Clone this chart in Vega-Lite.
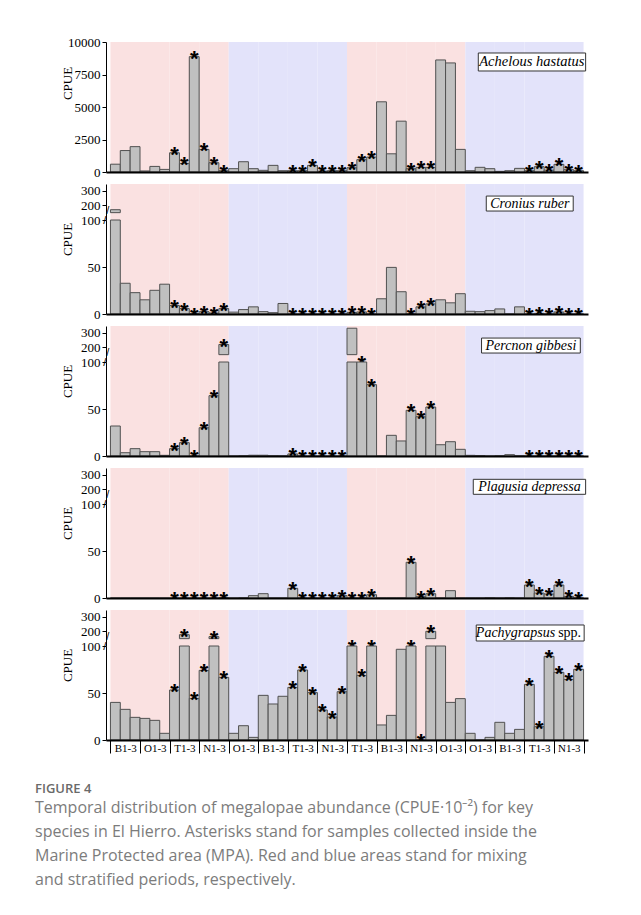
{
"$schema":"https://vega.github.io/schema/vega-lite/v6.json",
"padding":{"left":35,"top":36,"right":5,"bottom":10},
"spacing":5,
"title":{"text":"FIGURE 4","subtitle":["Temporal distribution of megalopae abundance (CPUE·10⁻²) for key","species in El Hierro. Asterisks stand for samples collected inside the","Marine Protected area (MPA). Red and blue areas stand for mixing","and stratified periods, respectively."],"orient":"bottom","anchor":"start","frame":"bounds","offset":29,"dx":-26,"font":"Open Sans","fontSize":13,"fontWeight":600,"color":"#6a6a6a","subtitleFont":"Open Sans","subtitleFontSize":16,"subtitleColor":"#7c7c7c","subtitleLineHeight":24,"subtitlePadding":4},
"config":{"view":{"stroke":null},
"axisY":{"domainColor":"black","tickColor":"black","tickSize":4,"labelFont":"Liberation Serif","labelFontSize":13,"labelColor":"black","labelPadding":2,"labelFlush":false,"labelOverlap":false,"format":"d","grid":false,"titleFont":"Liberation Serif","titleFontSize":13,"titleFontWeight":"normal","titleColor":"black"},
"axisX":{"grid":false,"domainColor":"black","domainWidth":2,"labelFont":"Liberation Serif","labelFontSize":11,"labelColor":"black","labelAngle":0,"tickColor":"black"}},
"datasets":{
"bg":[{"g":"01","p":"m"},{"g":"02","p":"m"},{"g":"03","p":"m"},{"g":"04","p":"m"},{"g":"05","p":"s"},{"g":"06","p":"s"},{"g":"07","p":"s"},{"g":"08","p":"s"},{"g":"09","p":"m"},{"g":"10","p":"m"},{"g":"11","p":"m"},{"g":"12","p":"m"},{"g":"13","p":"s"},{"g":"14","p":"s"},{"g":"15","p":"s"},{"g":"16","p":"s"}],
"d":[
{"sp":"A","g":"01","s":1,"v":600,"m":0},{"sp":"A","g":"01","s":2,"v":1650,"m":0},{"sp":"A","g":"01","s":3,"v":1950,"m":0},
{"sp":"A","g":"02","s":1,"v":80,"m":0},{"sp":"A","g":"02","s":2,"v":430,"m":0},{"sp":"A","g":"02","s":3,"v":200,"m":0},
{"sp":"A","g":"03","s":1,"v":1480,"m":1},{"sp":"A","g":"03","s":2,"v":665,"m":1},{"sp":"A","g":"03","s":3,"v":8875,"m":1},
{"sp":"A","g":"04","s":1,"v":1740,"m":1},{"sp":"A","g":"04","s":2,"v":716,"m":1},{"sp":"A","g":"04","s":3,"v":100,"m":1},
{"sp":"A","g":"05","s":1,"v":255,"m":0},{"sp":"A","g":"05","s":2,"v":790,"m":0},{"sp":"A","g":"05","s":3,"v":255,"m":0},
{"sp":"A","g":"06","s":1,"v":128,"m":0},{"sp":"A","g":"06","s":2,"v":510,"m":0},{"sp":"A","g":"06","s":3,"v":100,"m":0},
{"sp":"A","g":"07","s":1,"v":100,"m":1},{"sp":"A","g":"07","s":2,"v":100,"m":1},{"sp":"A","g":"07","s":3,"v":510,"m":1},
{"sp":"A","g":"08","s":1,"v":70,"m":1},{"sp":"A","g":"08","s":2,"v":100,"m":1},{"sp":"A","g":"08","s":3,"v":100,"m":1},
{"sp":"A","g":"09","s":1,"v":330,"m":1},{"sp":"A","g":"09","s":2,"v":950,"m":1},{"sp":"A","g":"09","s":3,"v":1150,"m":1},
{"sp":"A","g":"10","s":1,"v":5400,"m":0},{"sp":"A","g":"10","s":2,"v":1400,"m":0},{"sp":"A","g":"10","s":3,"v":3910,"m":0},
{"sp":"A","g":"11","s":1,"v":255,"m":1},{"sp":"A","g":"11","s":2,"v":360,"m":1},{"sp":"A","g":"11","s":3,"v":360,"m":1},
{"sp":"A","g":"12","s":1,"v":8620,"m":0},{"sp":"A","g":"12","s":2,"v":8390,"m":0},{"sp":"A","g":"12","s":3,"v":1740,"m":0},
{"sp":"A","g":"13","s":1,"v":100,"m":0},{"sp":"A","g":"13","s":2,"v":360,"m":0},{"sp":"A","g":"13","s":3,"v":255,"m":0},
{"sp":"A","g":"14","s":1,"v":50,"m":0},{"sp":"A","g":"14","s":2,"v":100,"m":0},{"sp":"A","g":"14","s":3,"v":280,"m":0},
{"sp":"A","g":"15","s":1,"v":100,"m":1},{"sp":"A","g":"15","s":2,"v":410,"m":1},{"sp":"A","g":"15","s":3,"v":150,"m":1},
{"sp":"A","g":"16","s":1,"v":590,"m":1},{"sp":"A","g":"16","s":2,"v":180,"m":1},{"sp":"A","g":"16","s":3,"v":100,"m":1},
{"sp":"C","g":"01","s":1,"v":170,"m":0},{"sp":"C","g":"01","s":2,"v":32.7,"m":0},{"sp":"C","g":"01","s":3,"v":22.7,"m":0},
{"sp":"C","g":"02","s":1,"v":15.1,"m":0},{"sp":"C","g":"02","s":2,"v":25.2,"m":0},{"sp":"C","g":"02","s":3,"v":31.7,"m":0},
{"sp":"C","g":"03","s":1,"v":9,"m":1},{"sp":"C","g":"03","s":2,"v":5.8,"m":1},{"sp":"C","g":"03","s":3,"v":0.5,"m":1},
{"sp":"C","g":"04","s":1,"v":2.5,"m":1},{"sp":"C","g":"04","s":2,"v":1.1,"m":1},{"sp":"C","g":"04","s":3,"v":5.8,"m":1},
{"sp":"C","g":"05","s":1,"v":2,"m":0},{"sp":"C","g":"05","s":2,"v":4.7,"m":0},{"sp":"C","g":"05","s":3,"v":7.6,"m":0},
{"sp":"C","g":"06","s":1,"v":2.5,"m":0},{"sp":"C","g":"06","s":2,"v":1.4,"m":0},{"sp":"C","g":"06","s":3,"v":11.2,"m":0},
{"sp":"C","g":"07","s":1,"v":0,"m":1},{"sp":"C","g":"07","s":2,"v":0,"m":1},{"sp":"C","g":"07","s":3,"v":0,"m":1},
{"sp":"C","g":"08","s":1,"v":0,"m":1},{"sp":"C","g":"08","s":2,"v":0,"m":1},{"sp":"C","g":"08","s":3,"v":0,"m":1},
{"sp":"C","g":"09","s":1,"v":1.8,"m":1},{"sp":"C","g":"09","s":2,"v":2.2,"m":1},{"sp":"C","g":"09","s":3,"v":0,"m":1},
{"sp":"C","g":"10","s":1,"v":16.2,"m":0},{"sp":"C","g":"10","s":2,"v":49.6,"m":0},{"sp":"C","g":"10","s":3,"v":23.7,"m":0},
{"sp":"C","g":"11","s":1,"v":0.3,"m":1},{"sp":"C","g":"11","s":2,"v":7.6,"m":1},{"sp":"C","g":"11","s":3,"v":10.8,"m":1},
{"sp":"C","g":"12","s":1,"v":15.1,"m":0},{"sp":"C","g":"12","s":2,"v":11.9,"m":0},{"sp":"C","g":"12","s":3,"v":21.6,"m":0},
{"sp":"C","g":"13","s":1,"v":2.9,"m":0},{"sp":"C","g":"13","s":2,"v":2.5,"m":0},{"sp":"C","g":"13","s":3,"v":3.6,"m":0},
{"sp":"C","g":"14","s":1,"v":5.4,"m":0},{"sp":"C","g":"14","s":2,"v":0,"m":0},{"sp":"C","g":"14","s":3,"v":7.6,"m":0},
{"sp":"C","g":"15","s":1,"v":0,"m":1},{"sp":"C","g":"15","s":2,"v":0.7,"m":1},{"sp":"C","g":"15","s":3,"v":0,"m":1},
{"sp":"C","g":"16","s":1,"v":2.2,"m":1},{"sp":"C","g":"16","s":2,"v":0,"m":1},{"sp":"C","g":"16","s":3,"v":0,"m":1},
{"sp":"P","g":"01","s":1,"v":31.9,"m":0},{"sp":"P","g":"01","s":2,"v":3.5,"m":0},{"sp":"P","g":"01","s":3,"v":7.8,"m":0},
{"sp":"P","g":"02","s":1,"v":4.6,"m":0},{"sp":"P","g":"02","s":2,"v":4.6,"m":0},{"sp":"P","g":"02","s":3,"v":0.7,"m":0},
{"sp":"P","g":"03","s":1,"v":7.8,"m":1},{"sp":"P","g":"03","s":2,"v":14.2,"m":1},{"sp":"P","g":"03","s":3,"v":0,"m":1},
{"sp":"P","g":"04","s":1,"v":30.1,"m":1},{"sp":"P","g":"04","s":2,"v":64.2,"m":1},{"sp":"P","g":"04","s":3,"v":219,"m":1},
{"sp":"P","g":"05","s":1,"v":0,"m":0},{"sp":"P","g":"05","s":2,"v":0.3,"m":0},{"sp":"P","g":"05","s":3,"v":0.8,"m":0},
{"sp":"P","g":"06","s":1,"v":0.8,"m":0},{"sp":"P","g":"06","s":2,"v":0.3,"m":0},{"sp":"P","g":"06","s":3,"v":0.2,"m":0},
{"sp":"P","g":"07","s":1,"v":2.2,"m":1},{"sp":"P","g":"07","s":2,"v":0,"m":1},{"sp":"P","g":"07","s":3,"v":0,"m":1},
{"sp":"P","g":"08","s":1,"v":0,"m":1},{"sp":"P","g":"08","s":2,"v":0,"m":1},{"sp":"P","g":"08","s":3,"v":0,"m":1},
{"sp":"P","g":"09","s":1,"v":330,"m":0},{"sp":"P","g":"09","s":2,"v":100,"m":1},{"sp":"P","g":"09","s":3,"v":75.9,"m":1},
{"sp":"P","g":"10","s":1,"v":0,"m":0},{"sp":"P","g":"10","s":2,"v":22,"m":0},{"sp":"P","g":"10","s":3,"v":16,"m":0},
{"sp":"P","g":"11","s":1,"v":48.6,"m":1},{"sp":"P","g":"11","s":2,"v":41.8,"m":1},{"sp":"P","g":"11","s":3,"v":52.1,"m":1},
{"sp":"P","g":"12","s":1,"v":12,"m":0},{"sp":"P","g":"12","s":2,"v":15.2,"m":0},{"sp":"P","g":"12","s":3,"v":7.1,"m":0},
{"sp":"P","g":"13","s":1,"v":0.7,"m":0},{"sp":"P","g":"13","s":2,"v":0.5,"m":0},{"sp":"P","g":"13","s":3,"v":0,"m":0},
{"sp":"P","g":"14","s":1,"v":0.3,"m":0},{"sp":"P","g":"14","s":2,"v":1.4,"m":0},{"sp":"P","g":"14","s":3,"v":0.3,"m":0},
{"sp":"P","g":"15","s":1,"v":0,"m":1},{"sp":"P","g":"15","s":2,"v":0,"m":1},{"sp":"P","g":"15","s":3,"v":0,"m":1},
{"sp":"P","g":"16","s":1,"v":0,"m":1},{"sp":"P","g":"16","s":2,"v":0,"m":1},{"sp":"P","g":"16","s":3,"v":0,"m":1},
{"sp":"L","g":"01","s":1,"v":0,"m":0},{"sp":"L","g":"01","s":2,"v":0,"m":0},{"sp":"L","g":"01","s":3,"v":0,"m":0},
{"sp":"L","g":"02","s":1,"v":0,"m":0},{"sp":"L","g":"02","s":2,"v":0,"m":0},{"sp":"L","g":"02","s":3,"v":0,"m":0},
{"sp":"L","g":"03","s":1,"v":0,"m":1},{"sp":"L","g":"03","s":2,"v":0,"m":1},{"sp":"L","g":"03","s":3,"v":0,"m":1},
{"sp":"L","g":"04","s":1,"v":0,"m":1},{"sp":"L","g":"04","s":2,"v":0,"m":1},{"sp":"L","g":"04","s":3,"v":0.5,"m":1},
{"sp":"L","g":"05","s":1,"v":0,"m":0},{"sp":"L","g":"05","s":2,"v":0.3,"m":0},{"sp":"L","g":"05","s":3,"v":2.5,"m":0},
{"sp":"L","g":"06","s":1,"v":4.6,"m":0},{"sp":"L","g":"06","s":2,"v":0,"m":0},{"sp":"L","g":"06","s":3,"v":0,"m":0},
{"sp":"L","g":"07","s":1,"v":10.3,"m":1},{"sp":"L","g":"07","s":2,"v":0,"m":1},{"sp":"L","g":"07","s":3,"v":0,"m":1},
{"sp":"L","g":"08","s":1,"v":0,"m":1},{"sp":"L","g":"08","s":2,"v":0,"m":1},{"sp":"L","g":"08","s":3,"v":2.5,"m":1},
{"sp":"L","g":"09","s":1,"v":0,"m":1},{"sp":"L","g":"09","s":2,"v":0,"m":1},{"sp":"L","g":"09","s":3,"v":3.5,"m":1},
{"sp":"L","g":"10","s":1,"v":0,"m":0},{"sp":"L","g":"10","s":2,"v":0,"m":0},{"sp":"L","g":"10","s":3,"v":0,"m":0},
{"sp":"L","g":"11","s":1,"v":38,"m":1},{"sp":"L","g":"11","s":2,"v":1.4,"m":1},{"sp":"L","g":"11","s":3,"v":4.6,"m":1},
{"sp":"L","g":"12","s":1,"v":0,"m":0},{"sp":"L","g":"12","s":2,"v":7.8,"m":0},{"sp":"L","g":"12","s":3,"v":0,"m":0},
{"sp":"L","g":"13","s":1,"v":0,"m":0},{"sp":"L","g":"13","s":2,"v":0,"m":0},{"sp":"L","g":"13","s":3,"v":0.3,"m":0},
{"sp":"L","g":"14","s":1,"v":0,"m":0},{"sp":"L","g":"14","s":2,"v":0.3,"m":0},{"sp":"L","g":"14","s":3,"v":0,"m":0},
{"sp":"L","g":"15","s":1,"v":13.8,"m":1},{"sp":"L","g":"15","s":2,"v":5.3,"m":1},{"sp":"L","g":"15","s":3,"v":4.3,"m":1},
{"sp":"L","g":"16","s":1,"v":13.8,"m":1},{"sp":"L","g":"16","s":2,"v":1.8,"m":1},{"sp":"L","g":"16","s":3,"v":0,"m":1},
{"sp":"G","g":"01","s":1,"v":40,"m":0},{"sp":"G","g":"01","s":2,"v":32.6,"m":0},{"sp":"G","g":"01","s":3,"v":24.1,"m":0},
{"sp":"G","g":"02","s":1,"v":23,"m":0},{"sp":"G","g":"02","s":2,"v":20.9,"m":0},{"sp":"G","g":"02","s":3,"v":7.1,"m":0},
{"sp":"G","g":"03","s":1,"v":53.2,"m":1},{"sp":"G","g":"03","s":2,"v":177,"m":1},{"sp":"G","g":"03","s":3,"v":44.3,"m":1},
{"sp":"G","g":"04","s":1,"v":74.1,"m":1},{"sp":"G","g":"04","s":2,"v":164,"m":1},{"sp":"G","g":"04","s":3,"v":66.7,"m":1},
{"sp":"G","g":"05","s":1,"v":7.1,"m":0},{"sp":"G","g":"05","s":2,"v":15.2,"m":0},{"sp":"G","g":"05","s":3,"v":2.8,"m":0},
{"sp":"G","g":"06","s":1,"v":47.5,"m":0},{"sp":"G","g":"06","s":2,"v":38.3,"m":0},{"sp":"G","g":"06","s":3,"v":46.5,"m":0},
{"sp":"G","g":"07","s":1,"v":56,"m":1},{"sp":"G","g":"07","s":2,"v":74.5,"m":1},{"sp":"G","g":"07","s":3,"v":50.4,"m":1},
{"sp":"G","g":"08","s":1,"v":31.9,"m":1},{"sp":"G","g":"08","s":2,"v":24.5,"m":1},{"sp":"G","g":"08","s":3,"v":51.4,"m":1},
{"sp":"G","g":"09","s":1,"v":100,"m":1},{"sp":"G","g":"09","s":2,"v":68.8,"m":1},{"sp":"G","g":"09","s":3,"v":100,"m":1},
{"sp":"G","g":"10","s":1,"v":16,"m":0},{"sp":"G","g":"10","s":2,"v":26.2,"m":0},{"sp":"G","g":"10","s":3,"v":96.5,"m":0},
{"sp":"G","g":"11","s":1,"v":100,"m":1},{"sp":"G","g":"11","s":2,"v":0,"m":1},{"sp":"G","g":"11","s":3,"v":200,"m":1},
{"sp":"G","g":"12","s":1,"v":100,"m":0},{"sp":"G","g":"12","s":2,"v":40,"m":0},{"sp":"G","g":"12","s":3,"v":44,"m":0},
{"sp":"G","g":"13","s":1,"v":7.1,"m":0},{"sp":"G","g":"13","s":2,"v":0,"m":0},{"sp":"G","g":"13","s":3,"v":2.8,"m":0},
{"sp":"G","g":"14","s":1,"v":18.8,"m":0},{"sp":"G","g":"14","s":2,"v":7.1,"m":0},{"sp":"G","g":"14","s":3,"v":11.3,"m":0},
{"sp":"G","g":"15","s":1,"v":59.2,"m":1},{"sp":"G","g":"15","s":2,"v":14.2,"m":1},{"sp":"G","g":"15","s":3,"v":89,"m":1},
{"sp":"G","g":"16","s":1,"v":72,"m":1},{"sp":"G","g":"16","s":2,"v":64.5,"m":1},{"sp":"G","g":"16","s":3,"v":75.2,"m":1}
]},
"vconcat":[
{"width":482,"height":130,"layer":[
 {"data":{"name":"bg"},"mark":{"type":"rect"},"encoding":{"x":{"field":"g","type":"nominal","scale":{"domain":["01","02","03","04","05","06","07","08","09","10","11","12","13","14","15","16"],"paddingInner":0,"paddingOuter":0.15},"axis":{"labels":false,"ticks":false,"title":null}},"y":{"datum":10000,"type":"quantitative","scale":{"domain":[0,10000],"nice":false},"axis":{"values":[0,2500,5000,7500,10000],"tickCount":10,"title":"CPUE","titleX":-32,"titleY":41}},"y2":{"datum":0},"fill":{"field":"p","type":"nominal","scale":{"domain":["m","s"],"range":["#fae1e1","#e3e3fa"]},"legend":null}}},
 {"data":{"name":"d"},"transform":[{"filter":"datum.sp=='A'"}],"mark":{"type":"bar","fill":"#c0c0c0","stroke":"#505050","strokeWidth":1},"encoding":{"x":{"field":"g","type":"nominal","scale":{"domain":["01","02","03","04","05","06","07","08","09","10","11","12","13","14","15","16"],"paddingInner":0,"paddingOuter":0.15},"axis":{"labels":false,"ticks":false,"title":null}},"xOffset":{"field":"s","type":"ordinal","scale":{"domain":[1,2,3],"paddingInner":0,"paddingOuter":0}},"y":{"field":"v","type":"quantitative","scale":{"domain":[0,10000],"nice":false},"axis":{"values":[0,2500,5000,7500,10000],"tickCount":10,"title":"CPUE","titleX":-32,"titleY":41}}}},
 {"data":{"name":"d"},"transform":[{"filter":"datum.sp=='A' && datum.m==1"}],"mark":{"type":"text","text":"*","font":"Liberation Sans","fontSize":22,"fontWeight":"bold","baseline":"alphabetic","dy":9,"color":"black","clip":true},"encoding":{"x":{"field":"g","type":"nominal","scale":{"domain":["01","02","03","04","05","06","07","08","09","10","11","12","13","14","15","16"],"paddingInner":0,"paddingOuter":0.15},"axis":{"labels":false,"ticks":false,"title":null}},"xOffset":{"field":"s","type":"ordinal","scale":{"domain":[1,2,3],"paddingInner":0,"paddingOuter":0}},"y":{"field":"v","type":"quantitative","scale":{"domain":[0,10000],"nice":false},"axis":{"values":[0,2500,5000,7500,10000],"tickCount":10,"title":"CPUE","titleX":-32,"titleY":41}}}},
 {"data":{"values":[{}]},"mark":{"type":"rect","fill":"white","stroke":"#333","strokeWidth":1},"encoding":{"x":{"datum":"13","type":"nominal","bandPosition":0.44},"x2":{"datum":"16","bandPosition":1.07},"y":{"datum":9154,"type":"quantitative"},"y2":{"datum":7770}}},
 {"data":{"values":[{}]},"mark":{"type":"text","text":"Achelous hastatus","font":"Liberation Serif","fontStyle":"italic","fontSize":14.5,"baseline":"middle","align":"center","color":"black"},"encoding":{"x":{"datum":"15","type":"nominal","bandPosition":0.25},"y":{"datum":8462,"type":"quantitative"}}}
]},
{"spacing":0,"bounds":"flush","vconcat":[
 {"width":482,"height":36,"layer":[
  {"data":{"name":"bg"},"mark":{"type":"rect"},"encoding":{"x":{"field":"g","type":"nominal","scale":{"domain":["01","02","03","04","05","06","07","08","09","10","11","12","13","14","15","16"],"paddingInner":0,"paddingOuter":0.15},"axis":null},"y":{"datum":345,"type":"quantitative","scale":{"domain":[100,345],"nice":false},"axis":{"values":[200,300],"title":null}},"y2":{"datum":100},"fill":{"field":"p","type":"nominal","scale":{"domain":["m","s"],"range":["#fae1e1","#e3e3fa"]},"legend":null}}},
  {"data":{"name":"d"},"transform":[{"filter":"datum.sp=='C' && datum.v>100"}],"mark":{"type":"bar","fill":"#c0c0c0","stroke":"#505050","strokeWidth":1},"encoding":{"x":{"field":"g","type":"nominal","scale":{"domain":["01","02","03","04","05","06","07","08","09","10","11","12","13","14","15","16"],"paddingInner":0,"paddingOuter":0.15},"axis":null},"xOffset":{"field":"s","type":"ordinal","scale":{"domain":[1,2,3],"paddingInner":0,"paddingOuter":0}},"y":{"field":"v","type":"quantitative","scale":{"domain":[100,345],"nice":false},"axis":{"values":[200,300],"title":null}},"y2":{"datum":150}}},
  {"data":{"values":[{}]},"mark":{"type":"rect","fill":"white","stroke":"#333","strokeWidth":1},"encoding":{"x":{"datum":"13","type":"nominal","bandPosition":0.71},"x2":{"datum":"16","bandPosition":0.65},"y":{"datum":263,"type":"quantitative"},"y2":{"datum":161}}},
  {"data":{"values":[{}]},"mark":{"type":"text","text":"Cronius ruber","font":"Liberation Serif","fontStyle":"italic","fontSize":14,"baseline":"middle","align":"center","color":"black"},"encoding":{"x":{"datum":"15","type":"nominal","bandPosition":0.18},"y":{"datum":212,"type":"quantitative"}}}
 ]},
 {"width":482,"height":94,"layer":[
  {"data":{"name":"bg"},"mark":{"type":"rect"},"encoding":{"x":{"field":"g","type":"nominal","scale":{"domain":["01","02","03","04","05","06","07","08","09","10","11","12","13","14","15","16"],"paddingInner":0,"paddingOuter":0.15},"axis":{"labels":false,"ticks":false,"title":null}},"y":{"datum":100,"type":"quantitative","scale":{"domain":[0,100],"nice":false,"clamp":true},"axis":{"values":[0,50,100],"tickCount":10,"title":"CPUE","titleX":-32,"titleY":19}},"y2":{"datum":0},"fill":{"field":"p","type":"nominal","scale":{"domain":["m","s"],"range":["#fae1e1","#e3e3fa"]},"legend":null}}},
  {"data":{"name":"d"},"transform":[{"filter":"datum.sp=='C'"}],"mark":{"type":"bar","fill":"#c0c0c0","stroke":"#505050","strokeWidth":1},"encoding":{"x":{"field":"g","type":"nominal","scale":{"domain":["01","02","03","04","05","06","07","08","09","10","11","12","13","14","15","16"],"paddingInner":0,"paddingOuter":0.15},"axis":{"labels":false,"ticks":false,"title":null}},"xOffset":{"field":"s","type":"ordinal","scale":{"domain":[1,2,3],"paddingInner":0,"paddingOuter":0}},"y":{"field":"v","type":"quantitative","scale":{"domain":[0,100],"nice":false,"clamp":true},"axis":{"values":[0,50,100],"tickCount":10,"title":"CPUE","titleX":-32,"titleY":19}}}},
  {"data":{"name":"d"},"transform":[{"filter":"datum.sp=='C' && datum.m==1 && datum.v<100"}],"mark":{"type":"text","text":"*","font":"Liberation Sans","fontSize":22,"fontWeight":"bold","baseline":"alphabetic","dy":9,"color":"black","clip":true},"encoding":{"x":{"field":"g","type":"nominal","scale":{"domain":["01","02","03","04","05","06","07","08","09","10","11","12","13","14","15","16"],"paddingInner":0,"paddingOuter":0.15},"axis":{"labels":false,"ticks":false,"title":null}},"xOffset":{"field":"s","type":"ordinal","scale":{"domain":[1,2,3],"paddingInner":0,"paddingOuter":0}},"y":{"field":"v","type":"quantitative","scale":{"domain":[0,100],"nice":false,"clamp":true},"axis":{"values":[0,50,100],"tickCount":10,"title":"CPUE","titleX":-32,"titleY":19}}}},
  {"data":{"values":[{}]},"mark":{"type":"text","text":"/","font":"Liberation Sans","fontSize":11,"baseline":"middle","align":"center","dy":-9,"dx":1,"color":"black"},"encoding":{"x":{"datum":"01","type":"nominal","bandPosition":-0.125},"y":{"datum":100,"type":"quantitative"}}},
  {"data":{"values":[{}]},"mark":{"type":"text","text":"/","font":"Liberation Sans","fontSize":11,"baseline":"middle","align":"center","dy":1,"dx":-2,"color":"black"},"encoding":{"x":{"datum":"01","type":"nominal","bandPosition":-0.125},"y":{"datum":100,"type":"quantitative"}}}
 ]}
]},
{"spacing":0,"bounds":"flush","vconcat":[
 {"width":482,"height":36,"layer":[
  {"data":{"name":"bg"},"mark":{"type":"rect"},"encoding":{"x":{"field":"g","type":"nominal","scale":{"domain":["01","02","03","04","05","06","07","08","09","10","11","12","13","14","15","16"],"paddingInner":0,"paddingOuter":0.15},"axis":null},"y":{"datum":345,"type":"quantitative","scale":{"domain":[100,345],"nice":false},"axis":{"values":[200,300],"title":null}},"y2":{"datum":100},"fill":{"field":"p","type":"nominal","scale":{"domain":["m","s"],"range":["#fae1e1","#e3e3fa"]},"legend":null}}},
  {"data":{"name":"d"},"transform":[{"filter":"datum.sp=='P' && datum.v>100"}],"mark":{"type":"bar","fill":"#c0c0c0","stroke":"#505050","strokeWidth":1},"encoding":{"x":{"field":"g","type":"nominal","scale":{"domain":["01","02","03","04","05","06","07","08","09","10","11","12","13","14","15","16"],"paddingInner":0,"paddingOuter":0.15},"axis":null},"xOffset":{"field":"s","type":"ordinal","scale":{"domain":[1,2,3],"paddingInner":0,"paddingOuter":0}},"y":{"field":"v","type":"quantitative","scale":{"domain":[100,345],"nice":false},"axis":{"values":[200,300],"title":null}},"y2":{"datum":150}}},
  {"data":{"name":"d"},"transform":[{"filter":"datum.sp=='P' && datum.m==1 && datum.v>=100"}],"mark":{"type":"text","text":"*","font":"Liberation Sans","fontSize":22,"fontWeight":"bold","baseline":"alphabetic","dy":9,"color":"black","clip":true},"encoding":{"x":{"field":"g","type":"nominal","scale":{"domain":["01","02","03","04","05","06","07","08","09","10","11","12","13","14","15","16"],"paddingInner":0,"paddingOuter":0.15},"axis":null},"xOffset":{"field":"s","type":"ordinal","scale":{"domain":[1,2,3],"paddingInner":0,"paddingOuter":0}},"y":{"field":"v","type":"quantitative","scale":{"domain":[100,345],"nice":false},"axis":{"values":[200,300],"title":null}}}},
  {"data":{"values":[{}]},"mark":{"type":"rect","fill":"white","stroke":"#333","strokeWidth":1},"encoding":{"x":{"datum":"13","type":"nominal","bandPosition":0.55},"x2":{"datum":"16","bandPosition":0.89},"y":{"datum":263,"type":"quantitative"},"y2":{"datum":161}}},
  {"data":{"values":[{}]},"mark":{"type":"text","text":"Percnon gibbesi","font":"Liberation Serif","fontStyle":"italic","fontSize":14,"baseline":"middle","align":"center","color":"black"},"encoding":{"x":{"datum":"15","type":"nominal","bandPosition":0.22},"y":{"datum":212,"type":"quantitative"}}}
 ]},
 {"width":482,"height":94,"layer":[
  {"data":{"name":"bg"},"mark":{"type":"rect"},"encoding":{"x":{"field":"g","type":"nominal","scale":{"domain":["01","02","03","04","05","06","07","08","09","10","11","12","13","14","15","16"],"paddingInner":0,"paddingOuter":0.15},"axis":{"labels":false,"ticks":false,"title":null}},"y":{"datum":100,"type":"quantitative","scale":{"domain":[0,100],"nice":false,"clamp":true},"axis":{"values":[0,50,100],"tickCount":10,"title":"CPUE","titleX":-32,"titleY":19}},"y2":{"datum":0},"fill":{"field":"p","type":"nominal","scale":{"domain":["m","s"],"range":["#fae1e1","#e3e3fa"]},"legend":null}}},
  {"data":{"name":"d"},"transform":[{"filter":"datum.sp=='P'"}],"mark":{"type":"bar","fill":"#c0c0c0","stroke":"#505050","strokeWidth":1},"encoding":{"x":{"field":"g","type":"nominal","scale":{"domain":["01","02","03","04","05","06","07","08","09","10","11","12","13","14","15","16"],"paddingInner":0,"paddingOuter":0.15},"axis":{"labels":false,"ticks":false,"title":null}},"xOffset":{"field":"s","type":"ordinal","scale":{"domain":[1,2,3],"paddingInner":0,"paddingOuter":0}},"y":{"field":"v","type":"quantitative","scale":{"domain":[0,100],"nice":false,"clamp":true},"axis":{"values":[0,50,100],"tickCount":10,"title":"CPUE","titleX":-32,"titleY":19}}}},
  {"data":{"name":"d"},"transform":[{"filter":"datum.sp=='P' && datum.m==1 && datum.v<100"}],"mark":{"type":"text","text":"*","font":"Liberation Sans","fontSize":22,"fontWeight":"bold","baseline":"alphabetic","dy":9,"color":"black","clip":true},"encoding":{"x":{"field":"g","type":"nominal","scale":{"domain":["01","02","03","04","05","06","07","08","09","10","11","12","13","14","15","16"],"paddingInner":0,"paddingOuter":0.15},"axis":{"labels":false,"ticks":false,"title":null}},"xOffset":{"field":"s","type":"ordinal","scale":{"domain":[1,2,3],"paddingInner":0,"paddingOuter":0}},"y":{"field":"v","type":"quantitative","scale":{"domain":[0,100],"nice":false,"clamp":true},"axis":{"values":[0,50,100],"tickCount":10,"title":"CPUE","titleX":-32,"titleY":19}}}},
  {"data":{"values":[{}]},"mark":{"type":"text","text":"/","font":"Liberation Sans","fontSize":11,"baseline":"middle","align":"center","dy":-9,"dx":1,"color":"black"},"encoding":{"x":{"datum":"01","type":"nominal","bandPosition":-0.125},"y":{"datum":100,"type":"quantitative"}}},
  {"data":{"values":[{}]},"mark":{"type":"text","text":"/","font":"Liberation Sans","fontSize":11,"baseline":"middle","align":"center","dy":1,"dx":-2,"color":"black"},"encoding":{"x":{"datum":"01","type":"nominal","bandPosition":-0.125},"y":{"datum":100,"type":"quantitative"}}}
 ]}
]},
{"spacing":0,"bounds":"flush","vconcat":[
 {"width":482,"height":36,"layer":[
  {"data":{"name":"bg"},"mark":{"type":"rect"},"encoding":{"x":{"field":"g","type":"nominal","scale":{"domain":["01","02","03","04","05","06","07","08","09","10","11","12","13","14","15","16"],"paddingInner":0,"paddingOuter":0.15},"axis":null},"y":{"datum":345,"type":"quantitative","scale":{"domain":[100,345],"nice":false},"axis":{"values":[200,300],"title":null}},"y2":{"datum":100},"fill":{"field":"p","type":"nominal","scale":{"domain":["m","s"],"range":["#fae1e1","#e3e3fa"]},"legend":null}}},
  {"data":{"values":[{}]},"mark":{"type":"rect","fill":"white","stroke":"#333","strokeWidth":1},"encoding":{"x":{"datum":"13","type":"nominal","bandPosition":0.27},"x2":{"datum":"16","bandPosition":1.07},"y":{"datum":268,"type":"quantitative"},"y2":{"datum":166}}},
  {"data":{"values":[{}]},"mark":{"type":"text","text":"Plagusia depressa","font":"Liberation Serif","fontStyle":"italic","fontSize":14,"baseline":"middle","align":"center","color":"black"},"encoding":{"x":{"datum":"15","type":"nominal","bandPosition":0.17},"y":{"datum":217,"type":"quantitative"}}}
 ]},
 {"width":482,"height":94,"layer":[
  {"data":{"name":"bg"},"mark":{"type":"rect"},"encoding":{"x":{"field":"g","type":"nominal","scale":{"domain":["01","02","03","04","05","06","07","08","09","10","11","12","13","14","15","16"],"paddingInner":0,"paddingOuter":0.15},"axis":{"labels":false,"ticks":false,"title":null}},"y":{"datum":100,"type":"quantitative","scale":{"domain":[0,100],"nice":false,"clamp":true},"axis":{"values":[0,50,100],"tickCount":10,"title":"CPUE","titleX":-32,"titleY":19}},"y2":{"datum":0},"fill":{"field":"p","type":"nominal","scale":{"domain":["m","s"],"range":["#fae1e1","#e3e3fa"]},"legend":null}}},
  {"data":{"name":"d"},"transform":[{"filter":"datum.sp=='L'"}],"mark":{"type":"bar","fill":"#c0c0c0","stroke":"#505050","strokeWidth":1},"encoding":{"x":{"field":"g","type":"nominal","scale":{"domain":["01","02","03","04","05","06","07","08","09","10","11","12","13","14","15","16"],"paddingInner":0,"paddingOuter":0.15},"axis":{"labels":false,"ticks":false,"title":null}},"xOffset":{"field":"s","type":"ordinal","scale":{"domain":[1,2,3],"paddingInner":0,"paddingOuter":0}},"y":{"field":"v","type":"quantitative","scale":{"domain":[0,100],"nice":false,"clamp":true},"axis":{"values":[0,50,100],"tickCount":10,"title":"CPUE","titleX":-32,"titleY":19}}}},
  {"data":{"name":"d"},"transform":[{"filter":"datum.sp=='L' && datum.m==1 && datum.v<100"}],"mark":{"type":"text","text":"*","font":"Liberation Sans","fontSize":22,"fontWeight":"bold","baseline":"alphabetic","dy":9,"color":"black","clip":true},"encoding":{"x":{"field":"g","type":"nominal","scale":{"domain":["01","02","03","04","05","06","07","08","09","10","11","12","13","14","15","16"],"paddingInner":0,"paddingOuter":0.15},"axis":{"labels":false,"ticks":false,"title":null}},"xOffset":{"field":"s","type":"ordinal","scale":{"domain":[1,2,3],"paddingInner":0,"paddingOuter":0}},"y":{"field":"v","type":"quantitative","scale":{"domain":[0,100],"nice":false,"clamp":true},"axis":{"values":[0,50,100],"tickCount":10,"title":"CPUE","titleX":-32,"titleY":19}}}},
  {"data":{"values":[{}]},"mark":{"type":"text","text":"/","font":"Liberation Sans","fontSize":11,"baseline":"middle","align":"center","dy":-9,"dx":1,"color":"black"},"encoding":{"x":{"datum":"01","type":"nominal","bandPosition":-0.125},"y":{"datum":100,"type":"quantitative"}}},
  {"data":{"values":[{}]},"mark":{"type":"text","text":"/","font":"Liberation Sans","fontSize":11,"baseline":"middle","align":"center","dy":1,"dx":-2,"color":"black"},"encoding":{"x":{"datum":"01","type":"nominal","bandPosition":-0.125},"y":{"datum":100,"type":"quantitative"}}}
 ]}
]},
{"spacing":0,"bounds":"flush","vconcat":[
 {"width":482,"height":36,"layer":[
  {"data":{"name":"bg"},"mark":{"type":"rect"},"encoding":{"x":{"field":"g","type":"nominal","scale":{"domain":["01","02","03","04","05","06","07","08","09","10","11","12","13","14","15","16"],"paddingInner":0,"paddingOuter":0.15},"axis":null},"y":{"datum":345,"type":"quantitative","scale":{"domain":[100,345],"nice":false},"axis":{"values":[200,300],"title":null}},"y2":{"datum":100},"fill":{"field":"p","type":"nominal","scale":{"domain":["m","s"],"range":["#fae1e1","#e3e3fa"]},"legend":null}}},
  {"data":{"name":"d"},"transform":[{"filter":"datum.sp=='G' && datum.v>100"}],"mark":{"type":"bar","fill":"#c0c0c0","stroke":"#505050","strokeWidth":1},"encoding":{"x":{"field":"g","type":"nominal","scale":{"domain":["01","02","03","04","05","06","07","08","09","10","11","12","13","14","15","16"],"paddingInner":0,"paddingOuter":0.15},"axis":null},"xOffset":{"field":"s","type":"ordinal","scale":{"domain":[1,2,3],"paddingInner":0,"paddingOuter":0}},"y":{"field":"v","type":"quantitative","scale":{"domain":[100,345],"nice":false},"axis":{"values":[200,300],"title":null}},"y2":{"datum":150}}},
  {"data":{"name":"d"},"transform":[{"filter":"datum.sp=='G' && datum.m==1 && datum.v>=100"}],"mark":{"type":"text","text":"*","font":"Liberation Sans","fontSize":22,"fontWeight":"bold","baseline":"alphabetic","dy":9,"color":"black","clip":true},"encoding":{"x":{"field":"g","type":"nominal","scale":{"domain":["01","02","03","04","05","06","07","08","09","10","11","12","13","14","15","16"],"paddingInner":0,"paddingOuter":0.15},"axis":null},"xOffset":{"field":"s","type":"ordinal","scale":{"domain":[1,2,3],"paddingInner":0,"paddingOuter":0}},"y":{"field":"v","type":"quantitative","scale":{"domain":[100,345],"nice":false},"axis":{"values":[200,300],"title":null}}}},
  {"data":{"values":[{}]},"mark":{"type":"rect","fill":"white","stroke":"#333","strokeWidth":1},"encoding":{"x":{"datum":"13","type":"nominal","bandPosition":0.37},"x2":{"datum":"16","bandPosition":1.02},"y":{"datum":243,"type":"quantitative"},"y2":{"datum":134}}},
  {"data":{"values":[{}]},"mark":{"type":"text","text":"Pachygrapsus","font":"Liberation Serif","fontStyle":"italic","fontSize":14,"baseline":"middle","align":"right","color":"black"},"encoding":{"x":{"datum":"16","type":"nominal","bandPosition":0.04},"y":{"datum":189,"type":"quantitative"}}},
  {"data":{"values":[{}]},"mark":{"type":"text","text":"spp.","font":"Liberation Serif","fontSize":14,"baseline":"middle","align":"left","color":"black"},"encoding":{"x":{"datum":"16","type":"nominal","bandPosition":0.14},"y":{"datum":189,"type":"quantitative"}}}
 ]},
 {"width":482,"height":94,"layer":[
  {"data":{"name":"bg"},"mark":{"type":"rect"},"encoding":{"x":{"field":"g","type":"nominal","scale":{"domain":["01","02","03","04","05","06","07","08","09","10","11","12","13","14","15","16"],"paddingInner":0,"paddingOuter":0.15},"axis":{"title":null,"tickBand":"extent","tickSize":13,"labelPadding":-11,"labelExpr":"['B1-3','O1-3','T1-3','N1-3','O1-3','B1-3','T1-3','N1-3','T1-3','B1-3','N1-3','O1-3','O1-3','B1-3','T1-3','N1-3'][toNumber(datum.value)-1]"}},"y":{"datum":100,"type":"quantitative","scale":{"domain":[0,100],"nice":false,"clamp":true},"axis":{"values":[0,50,100],"tickCount":10,"title":"CPUE","titleX":-32,"titleY":19}},"y2":{"datum":0},"fill":{"field":"p","type":"nominal","scale":{"domain":["m","s"],"range":["#fae1e1","#e3e3fa"]},"legend":null}}},
  {"data":{"name":"d"},"transform":[{"filter":"datum.sp=='G'"}],"mark":{"type":"bar","fill":"#c0c0c0","stroke":"#505050","strokeWidth":1},"encoding":{"x":{"field":"g","type":"nominal","scale":{"domain":["01","02","03","04","05","06","07","08","09","10","11","12","13","14","15","16"],"paddingInner":0,"paddingOuter":0.15},"axis":{"title":null,"tickBand":"extent","tickSize":13,"labelPadding":-11,"labelExpr":"['B1-3','O1-3','T1-3','N1-3','O1-3','B1-3','T1-3','N1-3','T1-3','B1-3','N1-3','O1-3','O1-3','B1-3','T1-3','N1-3'][toNumber(datum.value)-1]"}},"xOffset":{"field":"s","type":"ordinal","scale":{"domain":[1,2,3],"paddingInner":0,"paddingOuter":0}},"y":{"field":"v","type":"quantitative","scale":{"domain":[0,100],"nice":false,"clamp":true},"axis":{"values":[0,50,100],"tickCount":10,"title":"CPUE","titleX":-32,"titleY":19}}}},
  {"data":{"name":"d"},"transform":[{"filter":"datum.sp=='G' && datum.m==1 && datum.v<100"}],"mark":{"type":"text","text":"*","font":"Liberation Sans","fontSize":22,"fontWeight":"bold","baseline":"alphabetic","dy":9,"color":"black","clip":true},"encoding":{"x":{"field":"g","type":"nominal","scale":{"domain":["01","02","03","04","05","06","07","08","09","10","11","12","13","14","15","16"],"paddingInner":0,"paddingOuter":0.15},"axis":{"title":null,"tickBand":"extent","tickSize":13,"labelPadding":-11,"labelExpr":"['B1-3','O1-3','T1-3','N1-3','O1-3','B1-3','T1-3','N1-3','T1-3','B1-3','N1-3','O1-3','O1-3','B1-3','T1-3','N1-3'][toNumber(datum.value)-1]"}},"xOffset":{"field":"s","type":"ordinal","scale":{"domain":[1,2,3],"paddingInner":0,"paddingOuter":0}},"y":{"field":"v","type":"quantitative","scale":{"domain":[0,100],"nice":false,"clamp":true},"axis":{"values":[0,50,100],"tickCount":10,"title":"CPUE","titleX":-32,"titleY":19}}}},
  {"data":{"values":[{}]},"mark":{"type":"text","text":"/","font":"Liberation Sans","fontSize":11,"baseline":"middle","align":"center","dy":-9,"dx":1,"color":"black"},"encoding":{"x":{"datum":"01","type":"nominal","bandPosition":-0.125},"y":{"datum":100,"type":"quantitative"}}},
  {"data":{"values":[{}]},"mark":{"type":"text","text":"/","font":"Liberation Sans","fontSize":11,"baseline":"middle","align":"center","dy":1,"dx":-2,"color":"black"},"encoding":{"x":{"datum":"01","type":"nominal","bandPosition":-0.125},"y":{"datum":100,"type":"quantitative"}}}
 ]}
]}
]
}
